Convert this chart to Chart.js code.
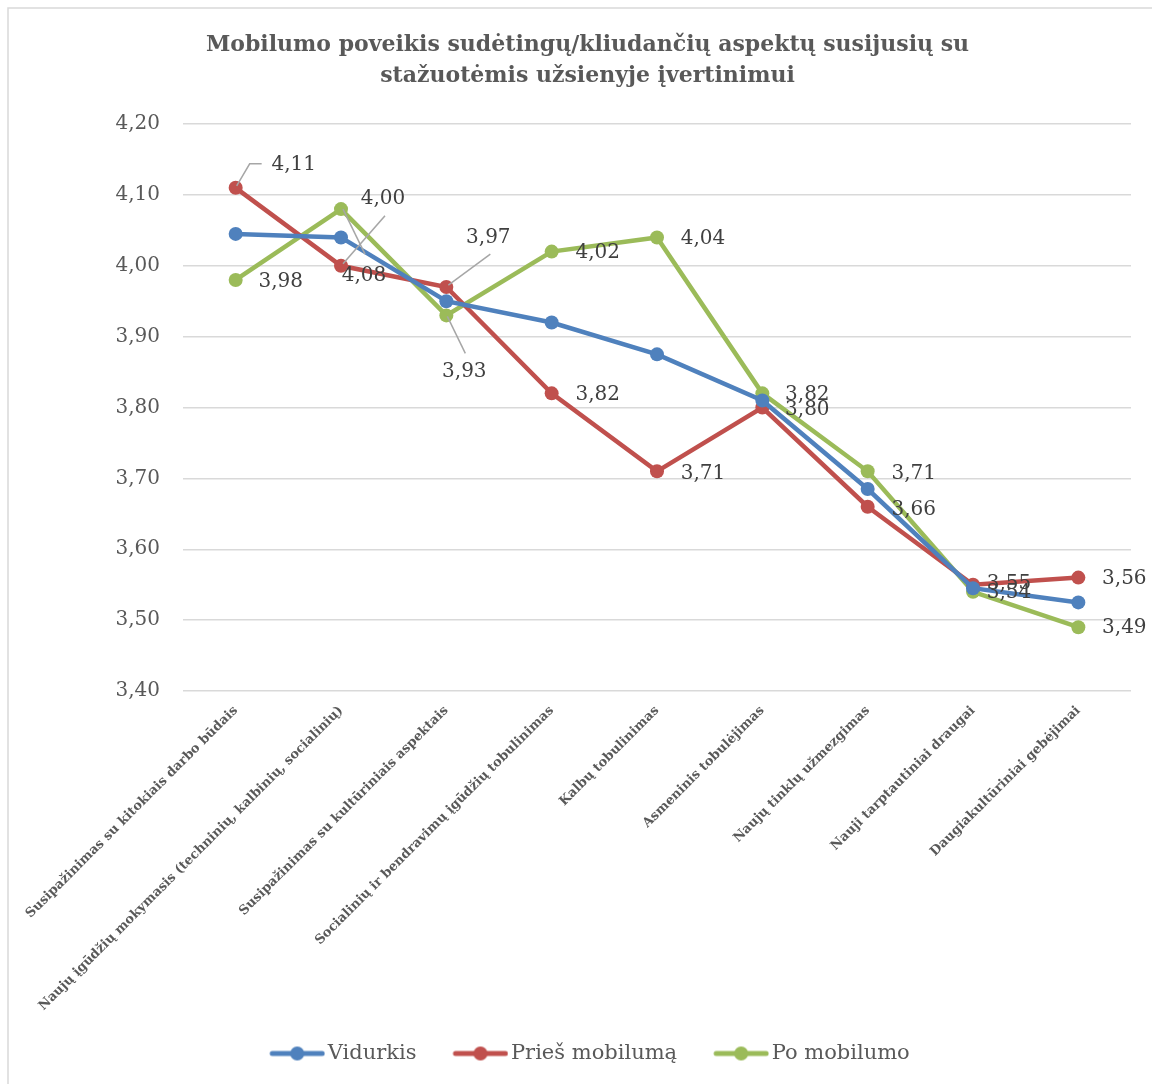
<!DOCTYPE html>
<html>
<head>
<meta charset="utf-8">
<title>Mobilumo poveikis</title>
<script src="https://cdn.jsdelivr.net/npm/chart.js@4.4.1/dist/chart.umd.min.js"></script>
<style>
  body { margin: 0; background: #fff; }
  #wrap { width: 1152px; height: 1084px; }
</style>
</head>
<body>
<div id="wrap"><canvas id="mobilityChart" width="1152" height="1084"></canvas></div>
<script>
const categories = [
    'Susipažinimas su kitokiais darbo būdais',
    'Naujų įgūdžių mokymasis (techninių, kalbinių, socialinių)',
    'Susipažinimas su kultūriniais aspektais',
    'Socialinių ir bendravimų įgūdžių tobulinimas',
    'Kalbų tobulinimas',
    'Asmeninis tobulėjimas',
    'Naujų tinklų užmezgimas',
    'Nauji tarptautiniai draugai',
    'Daugiakultūriniai gebėjimai'
];
const vidurkis = [4.045, 4.04, 3.95, 3.92, 3.875, 3.81, 3.685, 3.545, 3.525];
const priesMobiluma = [4.11, 4.00, 3.97, 3.82, 3.71, 3.80, 3.66, 3.55, 3.56];
const poMobilumo = [3.98, 4.08, 3.93, 4.02, 4.04, 3.82, 3.71, 3.54, 3.49];
const yMin = 3.4, yMax = 4.2, yStep = 0.1;

// where each data label sits relative to its point (dx, dy), and leader lines
const priesLabelOffsets = [[58,-23],[42,-67],[42,-49],[46,1],[46,2],[45,2],[46,3],[36,-1],[46,1]];
const poLabelOffsets = [[45,2],[23,67],[18,56],[46,1],[46,1],[45,1],[46,2],[36,1],[46,1]];
const priesLeaders = { 0: [[1,-2],[14,-24],[26,-24]], 1: [[2,-2],[44,-50]], 2: [[2,-2],[44,-33]] };
const poLeaders = { 1: [[2,0],[24,45]], 2: [[1,1],[19,38]] };

const SERIF = "'DejaVu Serif', serif";
const BLUE = '#4F81BD', RED = '#C0504D', GREEN = '#9BBB59';
const LEGEND_PAD = 32;

const fmt = v => v.toFixed(2).replace('.', ',');

// legend swatch: line with a dot, drawn in the right part of a wider canvas
// so that it sits close to its text
function legendMarker(color) {
    const c = document.createElement('canvas');
    c.width = 68; c.height = 16;
    const g = c.getContext('2d');
    g.strokeStyle = color;
    g.lineWidth = 5;
    g.lineCap = 'round';
    g.beginPath(); g.moveTo(15, 8); g.lineTo(65, 8); g.stroke();
    g.fillStyle = color;
    g.beginPath(); g.arc(40, 8, 7, 0, Math.PI * 2); g.fill();
    return c;
}

const frame = {
    id: 'frame',
    beforeDraw(chart) {
        const ctx = chart.ctx;
        ctx.save();
        ctx.fillStyle = '#fff';
        ctx.fillRect(0, 0, chart.width, chart.height);
        ctx.strokeStyle = '#d9d9d9';
        ctx.lineWidth = 1.5;
        ctx.beginPath();
        ctx.moveTo(8, chart.height); ctx.lineTo(8, 8); ctx.lineTo(chart.width, 8);
        ctx.stroke();
        ctx.restore();
    }
};

const valueLabels = {
    id: 'valueLabels',
    afterDatasetsDraw(chart) {
        const ctx = chart.ctx;
        const sets = [[1, priesLabelOffsets, priesLeaders], [2, poLabelOffsets, poLeaders]];
        ctx.save();
        ctx.strokeStyle = '#a6a6a6';
        ctx.lineWidth = 1.5;
        sets.forEach(([di, offs, leaders]) => {
            const meta = chart.getDatasetMeta(di);
            Object.keys(leaders).forEach(k => {
                const p = meta.data[k];
                const pts = leaders[k];
                ctx.beginPath();
                ctx.moveTo(p.x + pts[0][0], p.y + pts[0][1]);
                pts.slice(1).forEach(q => ctx.lineTo(p.x + q[0], p.y + q[1]));
                ctx.stroke();
            });
        });
        ctx.fillStyle = '#404040';
        ctx.font = '20px ' + SERIF;
        ctx.textAlign = 'center';
        ctx.textBaseline = 'middle';
        sets.forEach(([di, offs]) => {
            const meta = chart.getDatasetMeta(di);
            const vals = chart.data.datasets[di].data;
            meta.data.forEach((p, i) => {
                ctx.fillText(fmt(vals[i]), p.x + offs[i][0], p.y + offs[i][1]);
            });
        });
        ctx.restore();
    }
};

function line(label, data, color) {
    return {
        label, data,
        borderColor: color,
        backgroundColor: color,
        borderWidth: 4.5,
        pointRadius: 7,
        pointHoverRadius: 7,
        pointBorderWidth: 0,
        pointBackgroundColor: color,
        pointStyle: 'circle',
        tension: 0,
        fill: false
    };
}

new Chart(document.getElementById('mobilityChart').getContext('2d'), {
    type: 'line',
    data: {
        labels: categories,
        datasets: [
            line('Vidurkis', vidurkis, BLUE),
            line('Prieš mobilumą', priesMobiluma, RED),
            line('Po mobilumo', poMobilumo, GREEN)
        ]
    },
    plugins: [frame, valueLabels],
    options: {
        responsive: false,
        animation: false,
        events: [],
        layout: { padding: { left: 44, right: 21, top: 0, bottom: 10 } },
        plugins: {
            title: {
                display: true,
                text: ['Mobilumo poveikis sudėtingų/kliudančių aspektų susijusių su',
                       'stažuotėmis užsienyje įvertinimui'],
                color: '#595959',
                font: { family: SERIF, size: 22, weight: 'bold', lineHeight: 1.41 },
                padding: { top: 30, bottom: 32 }
            },
            legend: {
                position: 'bottom',
                labels: {
                    usePointStyle: true,
                    pointStyleWidth: 52,
                    padding: LEGEND_PAD,
                    color: '#595959',
                    font: { family: SERIF, size: 21 },
                    generateLabels(chart) {
                        return chart.data.datasets.map((d, i) => ({
                            text: d.label,
                            fillStyle: d.borderColor,
                            strokeStyle: d.borderColor,
                            fontColor: '#595959',
                            lineWidth: 0,
                            pointStyle: legendMarker(d.borderColor),
                            datasetIndex: i,
                            hidden: false
                        }));
                    }
                }
            },
            tooltip: { enabled: false }
        },
        scales: {
            x: {
                offset: true,
                grid: { display: false, drawTicks: false, offset: true },
                border: { display: false },
                ticks: {
                    autoSkip: false,
                    minRotation: 45,
                    maxRotation: 45,
                    padding: 12,
                    color: '#595959',
                    font: { family: SERIF, size: 13, weight: 'bold' }
                },
                afterFit(axis) {
                    axis.height = 352 - LEGEND_PAD;
                    axis.paddingLeft = 0;
                    axis.paddingRight = 0;
                }
            },
            y: {
                min: yMin,
                max: yMax,
                grid: { color: '#d9d9d9', lineWidth: 1.5, drawTicks: false },
                border: { display: false },
                ticks: {
                    stepSize: yStep,
                    padding: 23,
                    color: '#595959',
                    font: { family: SERIF, size: 20 },
                    callback: v => fmt(v)
                },
                afterFit(axis) { axis.width = 139; }
            }
        }
    }
});
</script>
</body>
</html>
